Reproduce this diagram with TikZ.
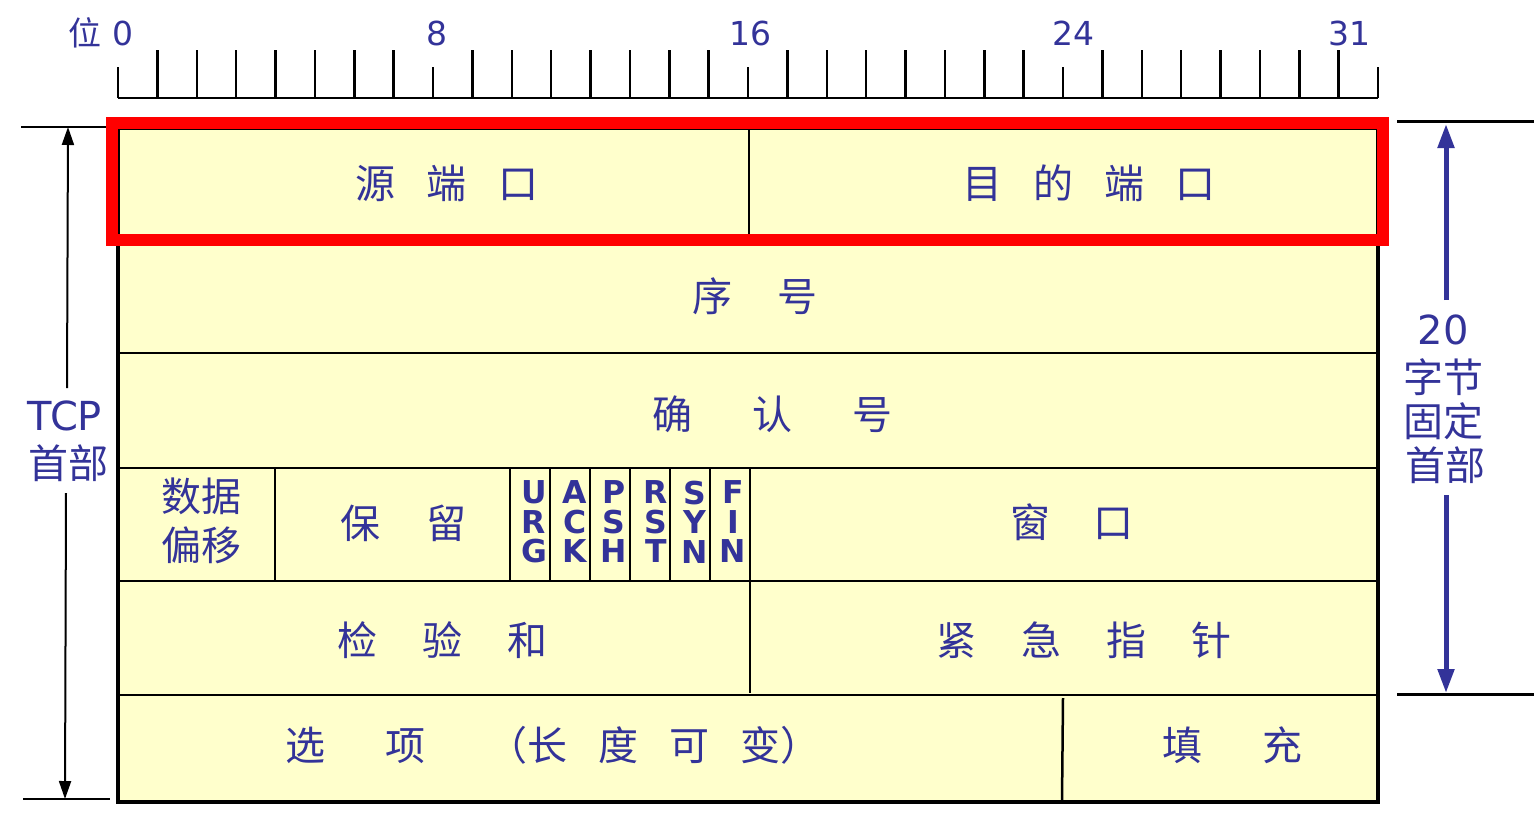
\documentclass[tikz,border=0pt]{standalone}
\usepackage{fontspec}
\setmainfont{DejaVu Sans}
\newfontfamily\cjk{Noto Sans CJK SC}
\usetikzlibrary{arrows.meta}
\definecolor{tblue}{HTML}{333399}
\definecolor{tfill}{HTML}{FFFFCC}
\definecolor{tred}{HTML}{FF0000}
\newcommand\gp[1]{\hspace*{#1pt}}
\tikzset{
  cn/.style={text=tblue, font=\cjk\fontsize{40}{48}\selectfont, inner sep=0pt, anchor=west},
  cnc/.style={text=tblue, font=\cjk\fontsize{40}{48}\selectfont, inner sep=0pt},
  lat/.style={text=tblue, font=\fontsize{40}{48}\selectfont, inner sep=0pt},
  rlab/.style={text=tblue, font=\fontsize{33}{36}\selectfont, inner sep=0pt},
  flag/.style={text=tblue, font=\bfseries\fontsize{31.5}{29.5}\selectfont, inner sep=0pt, align=center},
  inner/.style={line width=2.5pt, black},
  outer/.style={line width=4pt, black},
  rule/.style={line width=2.5pt, black},
  blk/.style={line width=2pt, black, -{Triangle[length=18pt,width=12pt]}},
  bluearr/.style={line width=5pt, tblue, -{Triangle[length=24pt,width=16pt]}},
}
\begin{document}
\begin{tikzpicture}[x=1pt,y=-1pt]
\useasboundingbox (0,0) rectangle (1534,822);
% ruler
\draw[rule] (118,98) -- (1378,98);
\foreach \i in {0,...,32}{
  \pgfmathsetmacro\xx{118+\i*39.375}
  \pgfmathtruncatemacro\mm{mod(\i,8)}
  \ifnum\mm=0
    \draw[rule] (\xx,98) -- (\xx,67);
  \else
    \draw[rule] (\xx,98) -- (\xx,50);
  \fi
}
\node[rlab, font=\cjk\fontsize{33}{36}\selectfont] (wei) at (85,33) {位};
\node[rlab] (r0) at (123,33) {0};
\node[rlab] (r8) at (437,33) {8};
\node[rlab] (r16) at (750,33) {16};
\node[rlab] (r24) at (1073,33) {24};
\node[rlab] (r31) at (1349,33) {31};
% table body
\fill[tfill] (118,128) rectangle (1378,802);
\draw[inner] (118,353) -- (1378,353);
\draw[inner] (118,468) -- (1378,468);
\draw[inner] (118,581) -- (1378,581);
\draw[inner] (118,695) -- (1378,695);
\draw[inner] (749,128) -- (749,240);
\foreach \xx in {275,510,550,590,630,670,710,750}{
  \draw[inner] (\xx,468) -- (\xx,581);
}
\draw[inner] (750,581) -- (750,693);
\draw[inner] (1063,698) -- (1062,802);
\draw[outer] (118,128) rectangle (1378,802);
% texts
\node[cn] (src) at (355,183) {源\gp{31.5}端\gp{31.5}口};
\node[cn] (dst) at (962,183) {目\gp{31}的\gp{31}端\gp{31}口};
\node[cn] (seq) at (692,296) {序\gp{45}号};
\node[cn] (ack) at (652,414) {确\gp{60}认\gp{60}号};
\node[cnc, align=center, font=\cjk\fontsize{40}{49}\selectfont] (off) at (201,521) {数据\\偏移};
\node[cn] (res) at (340,523) {保\gp{46}留};
\node[flag] (fu) at (534,522) {U\\R\\G};
\node[flag] (fa) at (575,522) {A\\C\\K};
\node[flag] (fp) at (614,522) {P\\S\\H};
\node[flag] (fr) at (656,522) {R\\S\\T};
\node[flag] (fs) at (695,522) {S\\Y\\N};
\node[flag] (ff) at (733,522) {F\\I\\N};
\node[cn] (win) at (1010,522) {窗\gp{43}口};
\node[cn] (chk) at (337,640) {检\gp{45}验\gp{45}和};
\node[cn] (urg) at (936,640) {紧\gp{45}急\gp{45}指\gp{45}针};
\node[cn] (opt) at (285,745) {选\gp{60}项\gp{62}（长\gp{31}度\gp{31}可\gp{31}变）};
\node[cn] (pad) at (1162,745) {填\gp{60}充};
% red box
\draw[tred, line width=12pt] (112,123) rectangle (1383,240);
% left dimension
\draw[line width=2.5pt] (21,127) -- (106,127);
\draw[line width=2.5pt] (23,799) -- (110,799);
\node[lat] (tcp) at (65,416) {TCP};
\node[cnc] (tcpsb) at (68,463) {首部};
\coordinate (ltop) at (68,127);
\coordinate (lbot) at (65,799);
\coordinate (lgap1) at (67,388);
\coordinate (lgap2) at (66,493);
\draw[blk] (lgap1) -- (ltop);
\draw[blk] (lgap2) -- (lbot);
% right dimension
\draw[line width=3pt] (1397,121) -- (1534,121);
\draw[line width=3pt] (1397,694) -- (1534,694);
\node[lat] (n20) at (1443,330) {20};
\node[cnc] (zj) at (1443,377) {字节};
\node[cnc] (gd) at (1443,421) {固定};
\node[cnc] (sb) at (1445,465) {首部};
\coordinate (rtop) at (1446,124);
\coordinate (rbot) at (1446,693);
\coordinate (rgap1) at (1446,300);
\coordinate (rgap2) at (1446,495);
\draw[bluearr] (rgap1) -- (rtop);
\draw[bluearr] (rgap2) -- (rbot);
\end{tikzpicture}
\end{document}
